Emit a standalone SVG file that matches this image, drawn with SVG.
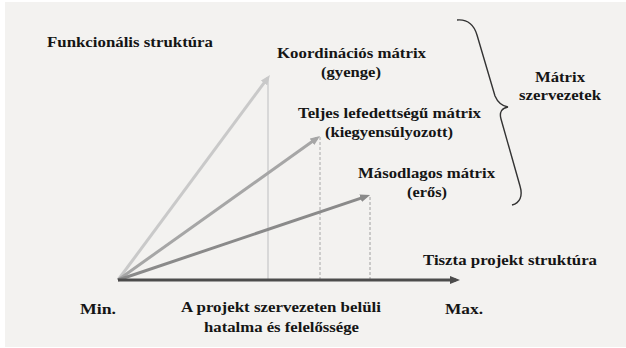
<svg xmlns="http://www.w3.org/2000/svg" width="626" height="348" viewBox="0 0 626 348">
<style>
text{font-family:'Liberation Serif','DejaVu Serif',serif;font-weight:700;font-size:15px;fill:#151515}
.ln{fill:none;stroke-width:3;stroke-linecap:butt}
</style>
<defs>
<marker id="ahL" markerUnits="userSpaceOnUse" viewBox="0 0 10 8" markerWidth="10" markerHeight="8" refX="6" refY="4" orient="auto"><path d="M0,0 L10,4 L0,8 z" fill="#c9c9c9"/></marker>
<marker id="ahM" markerUnits="userSpaceOnUse" viewBox="0 0 10 8" markerWidth="10" markerHeight="8" refX="6" refY="4" orient="auto"><path d="M0,0 L10,4 L0,8 z" fill="#a6a6a6"/></marker>
<marker id="ahD" markerUnits="userSpaceOnUse" viewBox="0 0 10 8" markerWidth="10" markerHeight="8" refX="6" refY="4" orient="auto"><path d="M0,0 L10,4 L0,8 z" fill="#8a8a8a"/></marker>
<marker id="ahA" markerUnits="userSpaceOnUse" viewBox="0 0 10 8" markerWidth="10" markerHeight="8" refX="6" refY="4" orient="auto"><path d="M0,0 L10,4 L0,8 z" fill="#4c4c4c"/></marker>
</defs>
<rect width="626" height="348" fill="#ffffff"/>
<rect x="5" y="2" width="621" height="345" fill="#f3f2f0"/>

<g id="connectors">
<line x1="268" y1="78" x2="268" y2="280" stroke="#d8d8d8" stroke-width="2"/>
<line x1="320" y1="137" x2="320" y2="280" stroke="#a8a8a8" stroke-width="1" stroke-dasharray="3,2"/>
<line x1="370" y1="197" x2="370" y2="280" stroke="#a0a0a0" stroke-width="1" stroke-dasharray="3,2"/>
<line class="ln" x1="118" y1="280" x2="267.6" y2="78.2" stroke="#c9c9c9" marker-end="url(#ahL)"/>
<line class="ln" x1="118" y1="280" x2="316.8" y2="138.3" stroke="#a6a6a6" marker-end="url(#ahM)"/>
<line class="ln" x1="118" y1="280" x2="366.3" y2="196.3" stroke="#8a8a8a" marker-end="url(#ahD)"/>
<line class="ln" x1="118" y1="280" x2="456" y2="280" stroke="#4c4c4c" marker-end="url(#ahA)"/>
</g>

<g id="brace">
<path d="M457,20 C468,19 474,25 477,35 L495,96 C498,103 502,106 508,107 C502,108 499,112 501,119 L520,186 C523,196 520,203 512,205" fill="none" stroke="#333" stroke-width="1.4"/>
</g>

<g font-family="Liberation Serif, DejaVu Serif, serif">
<g id="funkcionalis"><text x="47" y="47" textLength="166" lengthAdjust="spacingAndGlyphs">Funkcionális struktúra</text></g>
<g id="koordinacios">
<text x="277" y="58" textLength="149" lengthAdjust="spacingAndGlyphs">Koordinációs mátrix</text>
<text x="321" y="77" textLength="60" lengthAdjust="spacingAndGlyphs">(gyenge)</text>
</g>
<g id="teljes">
<text x="298" y="118" textLength="183" lengthAdjust="spacingAndGlyphs">Teljes lefedettségű mátrix</text>
<text x="325" y="137" textLength="128" lengthAdjust="spacingAndGlyphs">(kiegyensúlyozott)</text>
</g>
<g id="masodlagos">
<text x="358" y="178" textLength="137" lengthAdjust="spacingAndGlyphs">Másodlagos mátrix</text>
<text x="407" y="197" textLength="40" lengthAdjust="spacingAndGlyphs">(erős)</text>
</g>
<g id="matrix-szervezetek">
<text x="535" y="82" textLength="50" lengthAdjust="spacingAndGlyphs">Mátrix</text>
<text x="519" y="100" textLength="82" lengthAdjust="spacingAndGlyphs">szervezetek</text>
</g>
<g id="tiszta"><text x="423" y="265" textLength="174" lengthAdjust="spacingAndGlyphs">Tiszta projekt struktúra</text></g>
<g id="min"><text x="80" y="314" textLength="36" lengthAdjust="spacingAndGlyphs">Min.</text></g>
<g id="axis-label">
<text x="181" y="312" textLength="200" lengthAdjust="spacingAndGlyphs">A projekt szervezeten belüli</text>
<text x="204" y="332" textLength="155" lengthAdjust="spacingAndGlyphs">hatalma és felelőssége</text>
</g>
<g id="max"><text x="445" y="314" textLength="38" lengthAdjust="spacingAndGlyphs">Max.</text></g>
</g>
</svg>
